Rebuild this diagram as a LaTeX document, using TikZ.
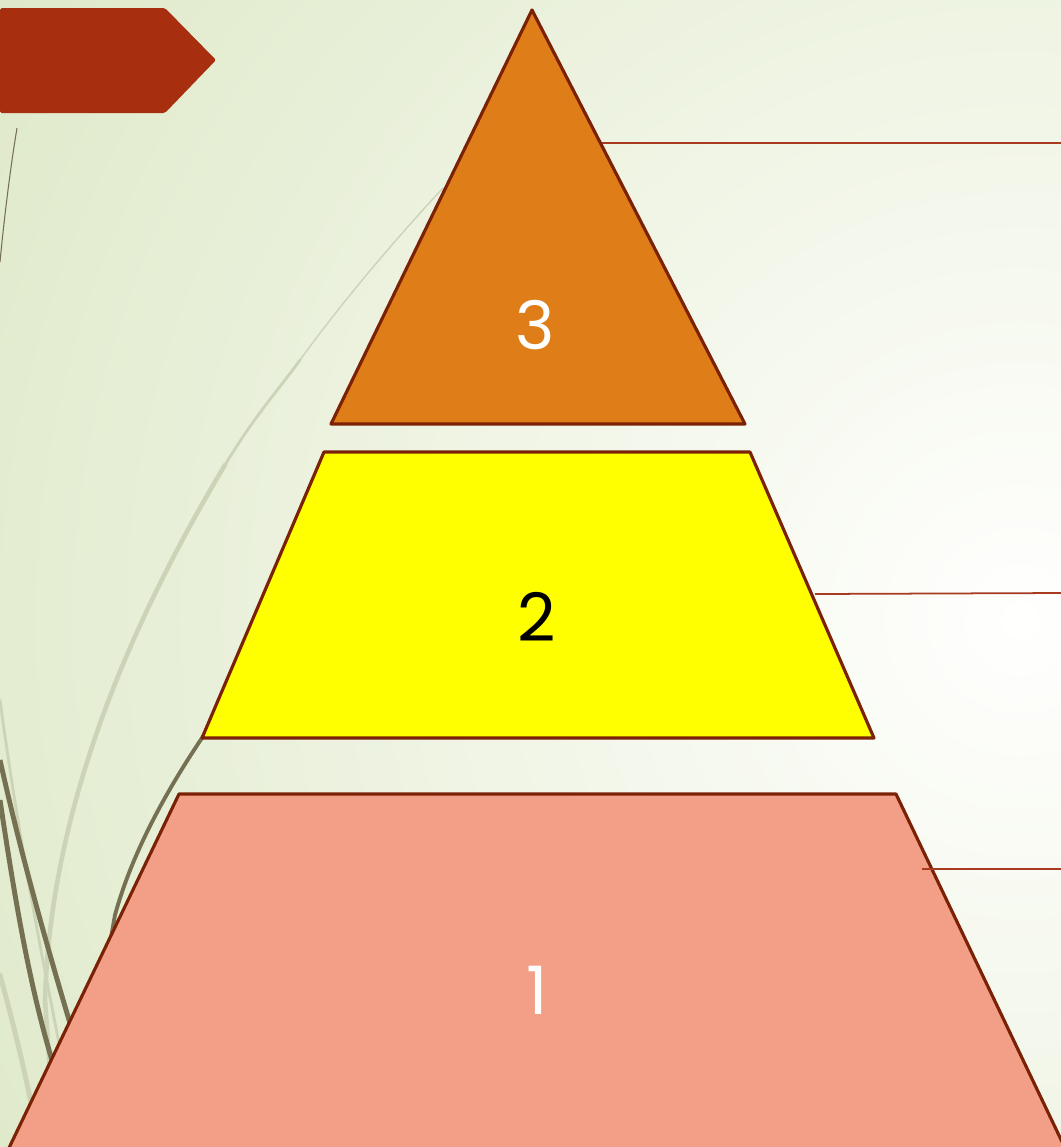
\documentclass[tikz,border=0pt]{standalone}
\usepackage{fontspec}
\setmainfont{Poppins}
\usepackage{tikz}
\usetikzlibrary{positioning}

\definecolor{bggreen}{HTML}{DCE7C4}
\definecolor{bgwhite}{HTML}{FFFFFE}
\definecolor{bannerred}{HTML}{A72F10}
\definecolor{tierorange}{HTML}{DF7E18}
\definecolor{tieryellow}{HTML}{FFFF00}
\definecolor{tiersalmon}{HTML}{F39F87}
\definecolor{tierborder}{HTML}{7B2206}
\definecolor{leaderred}{HTML}{A83A1F}
\definecolor{olive}{HTML}{757052}
\definecolor{palecurve}{HTML}{CDD3B7}

\tikzset{
  tier/.style={draw=tierborder, line width=0.9pt, line join=round},
  leader/.style={draw=leaderred, line width=0.5pt},
  tierlabel/.style={font=\fontsize{19}{19}\selectfont},
  swoosh/.style={line cap=round}
}

\begin{document}
\begin{tikzpicture}[x=0.01cm, y=-0.01cm]
  \useasboundingbox (0,0) rectangle (1061,1147);
  \clip (0,0) rectangle (1061,1147);
  % background
  \fill[bggreen] (0,0) rectangle (1061,1147);
  \shade[inner color=bgwhite, outer color=bggreen] (1020,620) circle (13cm);
  % decorative curves
  \draw[swoosh, palecurve, line width=0.4pt] (443,188) .. controls (390,245) and (340,305) .. (300,360);
  \draw[swoosh, palecurve, line width=0.8pt] (300,360) .. controls (280,388) and (255,415) .. (225,465);
  \draw[swoosh, palecurve, line width=1.3pt] (225,465) .. controls (120,640) and (50,820) .. (45,1000) -- (55,1147);
  \draw[swoosh, palecurve, line width=1.4pt] (0,975) .. controls (15,1030) and (25,1070) .. (40,1147);
  \draw[swoosh, palecurve, line width=0.8pt] (0,700) .. controls (20,850) and (50,1000) .. (80,1147);
  \draw[olive, line width=0.3pt] (17,128) .. controls (10,170) and (4,220) .. (0,262);
  \draw[olive, line width=1.4pt] (0,760) .. controls (20,850) and (45,940) .. (75,1040);
  \draw[olive, line width=1.4pt] (0,800) .. controls (15,900) and (30,990) .. (55,1070);
  \draw[olive, line width=1.1pt] (204,735) .. controls (160,800) and (130,860) .. (115,915) -- (100,1000);
  % banner
  \fill[bannerred, rounded corners=0.5pt] (0,8) -- (165,8) -- (216,60) -- (165,113) -- (0,113) -- cycle;
  % leader lines
  \coordinate (top3) at (602,143);
  \coordinate (end3) at (1061,143);
  \coordinate (top2) at (815,594);
  \coordinate (end2) at (1061,593);
  \coordinate (top1) at (922,869);
  \coordinate (end1) at (1061,869);
  \draw[leader] (top3) -- (end3);
  \draw[leader] (top2) -- (end2);
  % tiers
  \filldraw[tier, fill=tierorange] (532,10) -- (745,424) -- (331,424) -- cycle;
  \filldraw[tier, fill=tieryellow] (324,452) -- (750,452) -- (874,738) -- (202,738) -- cycle;
  \filldraw[tier, fill=tiersalmon] (179,794) -- (896,794) -- (1066,1150) -- (8,1150) -- cycle;
  \draw[leader] (top1) -- (end1);
  \node[tierlabel, text=white] (lbl3) at (535,325) {3};
  \node[tierlabel, text=black] (lbl2) at (537,617) {2};
  \node[tierlabel, text=white] (lbl1) at (537,990) {1};
\end{tikzpicture}
\end{document}
